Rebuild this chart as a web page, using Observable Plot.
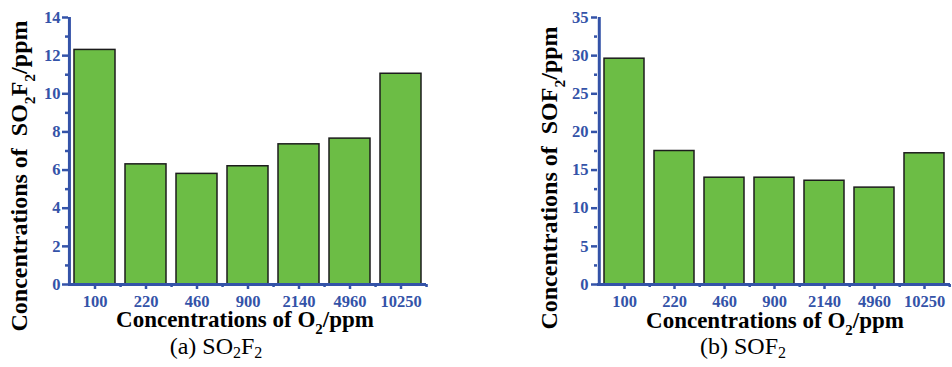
<!DOCTYPE html>
<html><head><meta charset="utf-8">
<script src="https://cdn.jsdelivr.net/npm/d3@7"></script>
<script src="https://cdn.jsdelivr.net/npm/@observablehq/plot@0.6"></script>
<style>
body{margin:0;background:#fff;font-family:"Liberation Serif",serif;}
#wrap{display:flex;width:952px;height:367px;overflow:hidden;}
.panel{position:relative;width:476px;height:367px;}
.panel svg{display:block;}
.cap{position:absolute;top:332px;font-size:24px;line-height:28px;white-space:nowrap;transform:translateX(-50%);color:#000;}
.cap sub{font-size:16px;vertical-align:-4px;line-height:0;}
</style></head><body>
<div id="wrap"><div class="panel" id="pa"></div><div class="panel" id="pb"></div></div>
<script>
const categories = ["100","220","460","900","2140","4960","10250"];
const so2f2 = [12.3, 6.3, 5.8, 6.2, 7.35, 7.65, 11.05];
const sof2 = [29.6, 17.5, 14.0, 14.0, 13.6, 12.7, 17.2];
const yTicksA = [0,2,4,6,8,10,12,14];
const yMinorA = [1,3,5,7,9,11,13];
const yTicksB = [0,5,10,15,20,25,30,35];
const yMinorB = [2.5,7.5,12.5,17.5,22.5,27.5,32.5];
const xTitleParts = [["Concentrations of O",0],["2",1],["/ppm",0]];
const yTitleA = [["Concentrations of  SO",0],["2",1],["F",0],["2",1],["/ppm",0]];
const yTitleB = [["Concentrations of  SOF",0],["2",1],["/ppm",0]];

const blue = "#3453a8", green = "#6cbd45";
const serif = '"Liberation Serif", "Times New Roman", serif';

function addText(svg, parts, x, y, rotate, size){
  const t = d3.select(svg).append("text")
    .attr("transform", `translate(${x},${y})` + (rotate ? " rotate(-90)" : ""))
    .attr("text-anchor","middle")
    .attr("font-weight","bold")
    .attr("font-size", size)
    .attr("fill","#000")
    .style("white-space","pre");
  let sub = false;
  for (const [s, isSub] of parts){
    const ts = t.append("tspan").text(s);
    if (isSub && !sub){ ts.attr("dy", size*0.32).attr("font-size", size*0.65); sub = true; }
    else if (!isSub && sub){ ts.attr("dy", -size*0.32); sub = false; }
    else if (isSub) ts.attr("font-size", size*0.65);
  }
}

function makeChart(o){
  const W = 476, H = 337, mt = 17, mb = 53;
  const pi = 0.2, po = 0.1;
  const step = (W - o.ml - o.mr) / (categories.length - pi + 2*po);
  const data = categories.map((c,i)=>({c, v:o.values[i]}));
  const svg = Plot.plot({
    width: W, height: H, marginLeft: o.ml, marginRight: o.mr, marginTop: mt, marginBottom: mb,
    style: {background:"transparent", overflow:"visible"},
    x: {domain: categories, paddingInner: pi, paddingOuter: po, axis: null},
    y: {domain: [0, o.yMax], axis: null},
    marks: [
      Plot.barY(data, {x:"c", y:"v", fill: green, stroke:"#1c1c1c", strokeWidth:1.5}),
      Plot.ruleY([0], {stroke: blue, strokeWidth: 3}),
      Plot.ruleX([categories[0]], {dx: -step/2, stroke: blue, strokeWidth: 3}),
      Plot.axisY(o.yTicks, {anchor:"left", tickSize: 6, tickPadding: o.tp, color: blue, strokeWidth: 2.5, fontWeight:"bold", fontSize: 16.5, label: null}),
      Plot.axisY(o.yMinor, {anchor:"left", tickSize: 3, color: blue, strokeWidth: 2.5, tickFormat: () => "", label: null}),
      Plot.axisX(categories, {anchor:"bottom", tickSize: 5, tickPadding: 6, color: blue, strokeWidth: 2.5, fontWeight:"bold", fontSize: 16.5, label: null}),
      Plot.axisX(categories, {anchor:"bottom", tickSize: 3, dx: step/2, color: blue, strokeWidth: 2.5, tickFormat: () => "", label: null})
    ]
  });
  addText(svg, xTitleParts, o.xtx, o.xty, false, 23);
  addText(svg, o.yTitle, o.ytx, o.yty, true, 24);
  const s = d3.select(svg);
  s.attr("font-family", serif).style("font-family", serif, "important");
  s.selectAll("g, text, tspan").attr("font-family", serif).style("font-family", serif, "important");
  return svg;
}

const pa = document.getElementById("pa");
pa.appendChild(makeChart({values: so2f2, yMax: 14, yTicks: yTicksA, yMinor: yMinorA, ml: 68, mr: 50, tp: 2,
  yTitle: yTitleA, xtx: 245, xty: 327, ytx: 27, yty: 176}));
pa.insertAdjacentHTML("beforeend", '<div class="cap" style="left:216px">(a) SO<sub>2</sub>F<sub>2</sub></div>');

const pb = document.getElementById("pb");
pb.appendChild(makeChart({values: sof2, yMax: 35, yTicks: yTicksB, yMinor: yMinorB, ml: 121, mr: 2, tp: 3,
  yTitle: yTitleB, xtx: 775-476, xty: 327.5, ytx: 557-476, yty: 178}));
pb.insertAdjacentHTML("beforeend", '<div class="cap" style="left:267px">(b) SOF<sub>2</sub></div>');
</script>
</body></html>
